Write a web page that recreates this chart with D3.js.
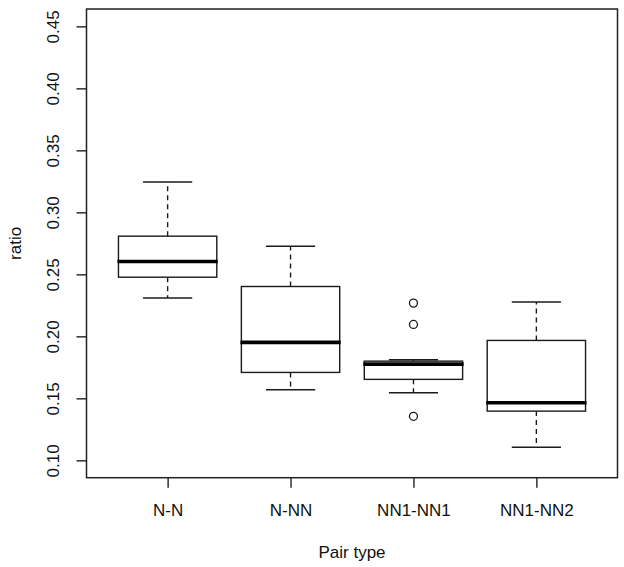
<!DOCTYPE html>
<html><head><meta charset="utf-8">
<script src="https://cdn.jsdelivr.net/npm/d3@7"></script>
<style>body{margin:0;background:#fff}svg{display:block}text{font-family:"Liberation Sans",Arial,Helvetica,sans-serif;fill:#111}</style>
</head><body>
<script>
const categories = ["N-N", "N-NN", "NN1-NN1", "NN1-NN2"];
const whiskerLow = [0.231, 0.157, 0.1545, 0.1105];
const q1 = [0.2477, 0.1709, 0.1653, 0.1397];
const median = [0.2604, 0.1951, 0.1776, 0.1464];
const q3 = [0.2808, 0.2402, 0.1800, 0.1967];
const whiskerHigh = [0.3245, 0.2727, 0.1811, 0.2278];
const outliers = [[], [], [0.2268, 0.2096, 0.1355], []];
const yTicks = [0.10, 0.15, 0.20, 0.25, 0.30, 0.35, 0.40, 0.45];
const yLimits = [0.10, 0.45];

(function () {
const W = 624, H = 567;
const pLeft = 86.5, pRight = 617.5, pTop = 9, pBottom = 477.7;
const fs = "17px";
const svg = d3.select("body").append("svg").attr("width", W).attr("height", H);

const yr = yLimits[1] - yLimits[0];
const y = d3.scaleLinear().domain([yLimits[0] - 0.04 * yr, yLimits[1] + 0.04 * yr]).range([pBottom, pTop]);
const xr = categories.length;
const x = d3.scaleLinear().domain([0.5 - 0.04 * xr, xr + 0.5 + 0.04 * xr]).range([pLeft, pRight]);
const unit = x(2) - x(1);
const stroke = "#1a1a1a";

const data = categories.map((c, i) => ({c, i: i + 1, lo: whiskerLow[i], q1: q1[i], med: median[i], q3: q3[i], hi: whiskerHigh[i], out: outliers[i]}));

const g = svg.append("g");
data.forEach(d => {
  const cx = x(d.i), bw = 0.4 * unit, cw = 0.2 * unit;
  g.append("line").attr("x1", cx).attr("x2", cx).attr("y1", y(d.q3)).attr("y2", y(d.hi))
    .attr("stroke", stroke).attr("stroke-width", 1.4).attr("stroke-dasharray", "5,4");
  g.append("line").attr("x1", cx).attr("x2", cx).attr("y1", y(d.q1)).attr("y2", y(d.lo))
    .attr("stroke", stroke).attr("stroke-width", 1.4).attr("stroke-dasharray", "5,4");
  [d.lo, d.hi].forEach(v => g.append("line").attr("x1", cx - cw).attr("x2", cx + cw).attr("y1", y(v)).attr("y2", y(v))
    .attr("stroke", stroke).attr("stroke-width", 1.5));
  g.append("rect").attr("x", cx - bw).attr("width", 2 * bw).attr("y", y(d.q3)).attr("height", y(d.q1) - y(d.q3))
    .attr("fill", "none").attr("stroke", stroke).attr("stroke-width", 1.4);
  g.append("line").attr("x1", cx - bw - 1).attr("x2", cx + bw + 1).attr("y1", y(d.med)).attr("y2", y(d.med))
    .attr("stroke", "#000").attr("stroke-width", 3.6);
  d.out.forEach(v => g.append("circle").attr("cx", cx).attr("cy", y(v)).attr("r", 4)
    .attr("fill", "none").attr("stroke", stroke).attr("stroke-width", 1.3));
});

svg.append("rect").attr("x", pLeft).attr("y", pTop).attr("width", pRight - pLeft).attr("height", pBottom - pTop)
  .attr("fill", "none").attr("stroke", "#222").attr("stroke-width", 1.5);

const yAxis = d3.axisLeft(y).tickValues(yTicks).tickFormat(d3.format(".2f")).tickSize(10).tickPadding(0);
const ya = svg.append("g").attr("transform", `translate(${pLeft - 10},0)`).call(yAxis);
ya.select(".domain").remove();
ya.selectAll(".tick line").attr("x2", 10).attr("stroke", "#222").attr("stroke-width", 1.4);
ya.selectAll(".tick text").attr("x", 0).attr("dy", 0)
  .attr("transform", "translate(-23,0) rotate(-90)").attr("text-anchor", "middle").attr("dominant-baseline", "central")
  .style("font-size", fs).attr("fill", "#111");

const xAxis = d3.axisBottom(x).tickValues(data.map(d => d.i)).tickFormat((d) => categories[d - 1]).tickSize(10).tickPadding(0);
const xa = svg.append("g").attr("transform", `translate(0,${pBottom})`).call(xAxis);
xa.select(".domain").remove();
xa.selectAll(".tick line").attr("stroke", "#222").attr("stroke-width", 1.4);
xa.selectAll(".tick text").attr("y", 38).attr("dy", 0).style("font-size", fs).attr("fill", "#111");

svg.append("text").attr("transform", `translate(21,${(pTop + pBottom) / 2}) rotate(-90)`)
  .attr("text-anchor", "middle").style("font-size", fs).text("ratio");
svg.append("text").attr("x", (pLeft + pRight) / 2).attr("y", 558).attr("text-anchor", "middle")
  .style("font-size", fs).text("Pair type");
})();
</script>
</body></html>
